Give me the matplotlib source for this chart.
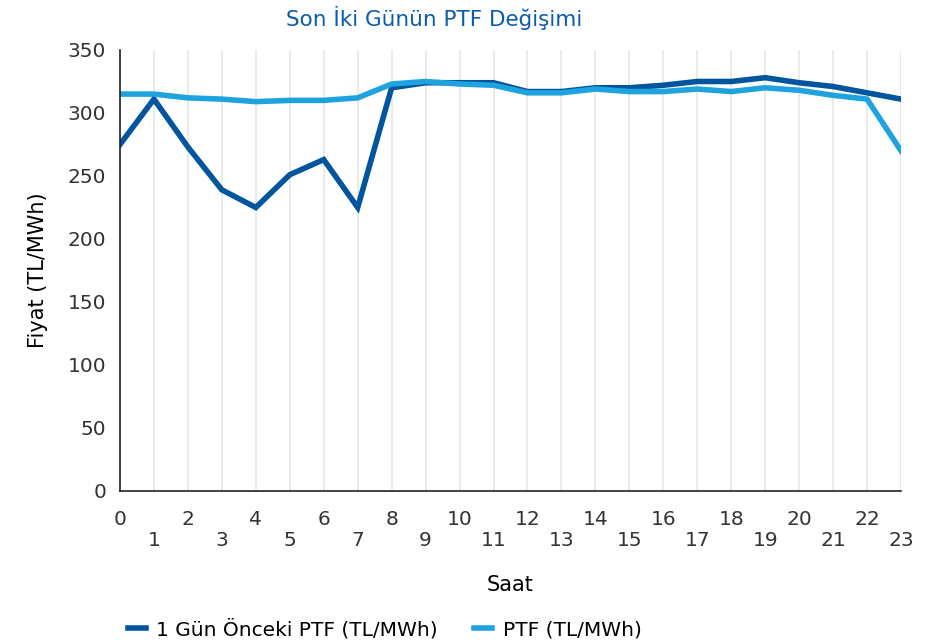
import matplotlib.pyplot as plt
import numpy as np

plt.rcParams['font.family'] = ['DejaVu Sans']

# Saatler ve fiyatlar
saat = list(range(24))
onceki_ptf = [275, 311, 273, 239, 225, 251, 263, 225, 320, 324, 324, 324,
              317, 317, 320, 320, 322, 325, 325, 328, 324, 321, 316, 311]
ptf = [315, 315, 312, 311, 309, 310, 310, 312, 323, 325, 323, 322,
       316, 316, 319, 317, 317, 319, 317, 320, 318, 314, 311, 270]

koyu = '#00559E'
acik = '#1FA3DF'

fig = plt.figure(figsize=(9.41, 6.44), dpi=100)
ax = fig.add_axes([0.1275, 0.2376, 0.830, 0.6848])

ax.plot(saat, onceki_ptf, color=koyu, lw=4, label='1 Gün Önceki PTF (TL/MWh)',
        solid_joinstyle='miter')
ax.plot(saat, ptf, color=acik, lw=4, label='PTF (TL/MWh)', solid_joinstyle='miter')

ax.set_xlim(0, 23)
ax.set_ylim(0, 350)
ax.set_yticks(np.arange(0, 351, 50))
ax.set_xticks(saat)
ax.set_xticklabels([str(s) for s in saat])
ax.tick_params(axis='both', length=0, labelsize=14.5, colors='#333333')
ax.tick_params(axis='y', pad=10)
for i, t in enumerate(ax.xaxis.get_major_ticks()):
    t.set_pad(14 if i % 2 == 0 else 29)

ax.grid(axis='x', color='#e6e6e6', lw=1.2)
ax.set_axisbelow(True)
for s in ['top', 'right']:
    ax.spines[s].set_visible(False)
for s in ['left', 'bottom']:
    ax.spines[s].set_color('#222222')
    ax.spines[s].set_linewidth(1.2)

ax.set_xlabel('Saat', fontsize=15, labelpad=18)
ax.set_ylabel('Fiyat (TL/MWh)', fontsize=15, labelpad=14)
fig.text(0.461, 0.972, 'Son İki Günün PTF Değişimi', ha='center', va='center',
         fontsize=15.5, color='#0B5CAB')

fig.legend(loc='center', bbox_to_anchor=(0.409, 0.023), ncol=2, frameon=False,
           fontsize=14.5, handlelength=0.9, handletextpad=0.5, columnspacing=1.8)

fig.savefig('out.png', dpi=100)
